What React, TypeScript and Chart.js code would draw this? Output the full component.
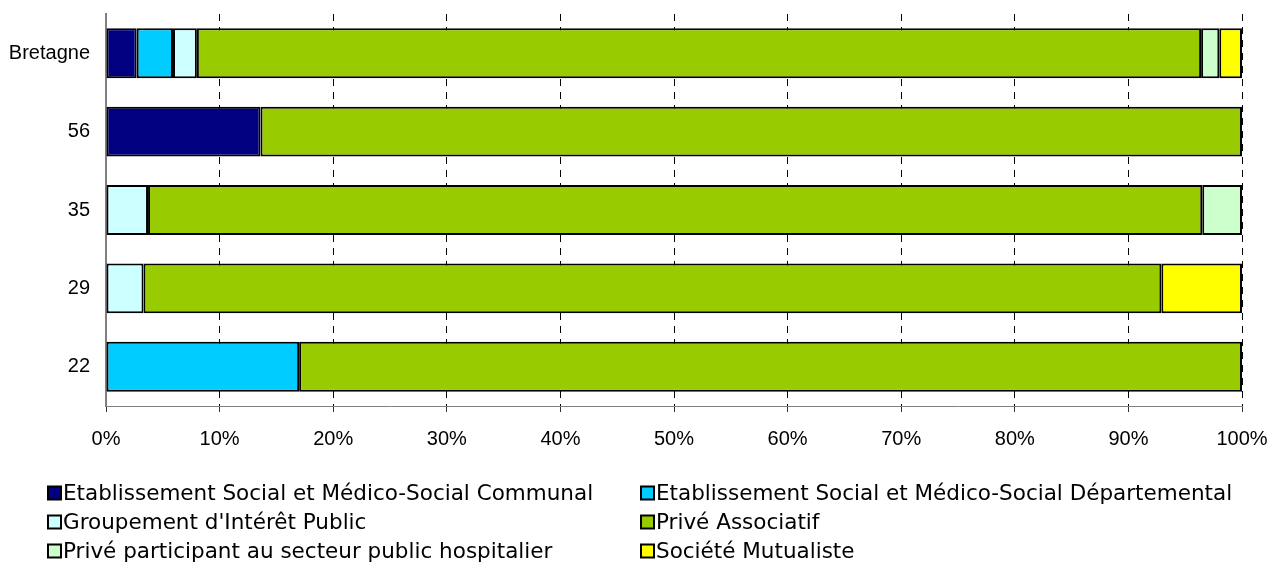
import React, { useEffect, useRef } from 'react';
import { Chart, registerables } from 'chart.js';

Chart.register(...registerables);

const categories = ['Bretagne', '56', '35', '29', '22'];

const seriesNames = [
  'Etablissement Social et Médico-Social Communal',
  'Etablissement Social et Médico-Social Départemental',
  "Groupement d'Intérêt Public",
  'Privé Associatif',
  'Privé participant au secteur public hospitalier',
  'Société Mutualiste',
];

const seriesColors = ['#000080', '#00CCFF', '#CCFFFF', '#99CC00', '#CCFFCC', '#FFFF00'];

const communal = [2.7, 13.6, null, null, null];
const departemental = [3.2, null, null, null, 17.0];
const groupementInteretPublic = [2.1, null, 3.7, 3.3, null];
const priveAssociatif = [88.4, 86.4, 92.8, 89.6, 83.0];
const privePSPH = [1.6, null, 3.5, null, null];
const societeMutualiste = [2.0, null, null, 7.1, null];

const seriesValues = [
  communal,
  departemental,
  groupementInteretPublic,
  priveAssociatif,
  privePSPH,
  societeMutualiste,
];

const xTickValues = [0, 10, 20, 30, 40, 50, 60, 70, 80, 90, 100];

const legendPlugin = {
  id: 'twoColumnLegend',
  afterDraw(chart: any) {
    const ctx = chart.ctx;
    const colX = [48, 641];
    const rowY = [493, 522, 551];
    const box = 13;
    ctx.save();
    ctx.font = '21.5px "DejaVu Sans", sans-serif';
    ctx.textBaseline = 'middle';
    ctx.textAlign = 'left';
    chart.data.datasets.forEach((ds: any, i: number) => {
      const c = i % 2;
      const r = Math.floor(i / 2);
      const x = colX[c];
      const y = rowY[r];
      ctx.fillStyle = ds.backgroundColor;
      ctx.fillRect(x, y - box / 2, box, box);
      ctx.lineWidth = 2;
      ctx.strokeStyle = '#000';
      ctx.strokeRect(x, y - box / 2, box, box);
      ctx.fillStyle = '#000';
      ctx.fillText(ds.label, x + box + 2, y + 1);
    });
    ctx.restore();
  },
};

export default function App() {
  const ref = useRef<HTMLCanvasElement | null>(null);

  useEffect(() => {
    if (!ref.current) return;
    const chart = new Chart(ref.current, {
      type: 'bar',
      data: {
        labels: categories,
        datasets: seriesNames.map((name, i) => ({
          label: name,
          data: seriesValues[i],
          backgroundColor: seriesColors[i],
          borderColor: '#000',
          borderWidth: 2,
          borderSkipped: false,
          barPercentage: 0.637,
          categoryPercentage: 1.0,
        })),
      },
      options: {
        indexAxis: 'y',
        animation: false,
        responsive: false,
        devicePixelRatio: 1,
        layout: { padding: { left: 0, top: 14, right: 34, bottom: 112 } },
        plugins: {
          legend: { display: false },
          tooltip: { enabled: false },
        },
        scales: {
          x: {
            type: 'linear',
            stacked: true,
            min: 0,
            max: 100,
            afterBuildTicks: (scale: any) => {
              scale.ticks = xTickValues.map((v) => ({ value: v }));
            },
            ticks: {
              callback: (v: any) => v + '%',
              color: '#000',
              font: { family: '"Liberation Sans", Arial, sans-serif', size: 20 },
              padding: 15,
              maxRotation: 0,
            },
            grid: {
              color: '#000',
              lineWidth: 1,
              drawTicks: true,
              tickLength: 6,
              tickColor: '#333',
              tickBorderDash: [],
            },
            border: { display: true, color: '#808080', width: 1, dash: [7, 6] },
            afterFit: (scale: any) => {
              scale.height = 54;
              scale.paddingLeft = 0;
              scale.paddingRight = 0;
              scale.paddingTop = 0;
              scale.paddingBottom = 0;
            },
          },
          y: {
            type: 'category',
            stacked: true,
            grid: { display: false, drawTicks: false },
            border: { display: true, color: '#808080', width: 2 },
            ticks: {
              color: '#000',
              font: { family: '"Liberation Sans", Arial, sans-serif', size: 20 },
              padding: 16,
            },
            afterFit: (scale: any) => {
              scale.width = 106;
              scale.paddingLeft = 0;
              scale.paddingRight = 0;
              scale.paddingTop = 0;
              scale.paddingBottom = 0;
            },
          },
        },
      },
      plugins: [legendPlugin],
    });
    return () => chart.destroy();
  }, []);

  return (
    <div style={{ position: 'absolute', left: 0, top: 0, width: 1276, height: 572, background: '#fff' }}>
      <canvas ref={ref} width={1276} height={572} />
    </div>
  );
}
